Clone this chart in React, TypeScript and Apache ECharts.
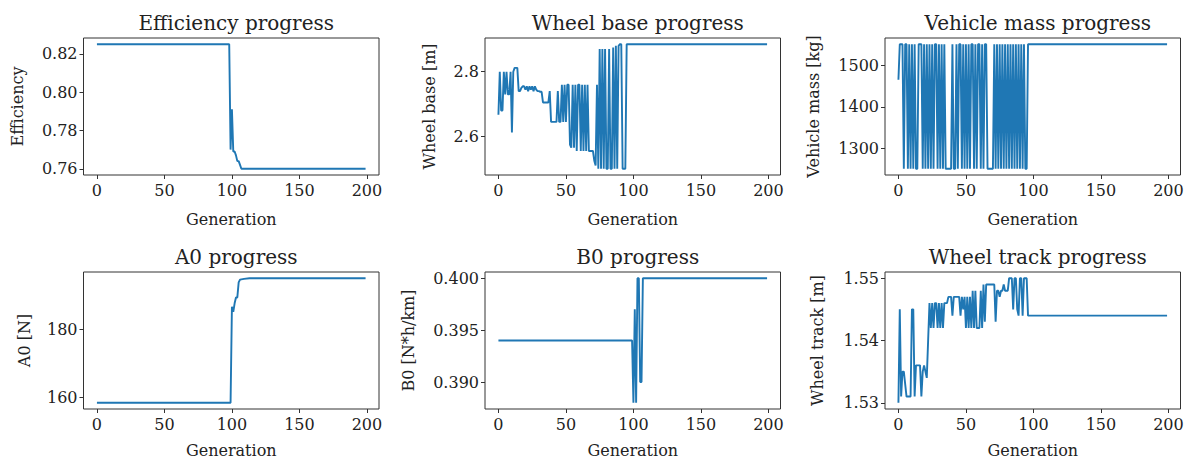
import React, { useEffect, useRef } from "react";
import * as echarts from "echarts";

// ---------- data ----------
const xTicks = [0, 50, 100, 150, 200];
const lastGeneration = 199;

// [generation, value] key points (straight segments between them)
const efficiencyPoints: [number, number][] = [
  [0, 0.825], [98, 0.825], [99, 0.77], [100, 0.791], [101, 0.769], [102, 0.769],
  [103, 0.767], [104, 0.764], [105, 0.764], [106, 0.762], [107, 0.76], [199, 0.76],
];
const a0Points: [number, number][] = [
  [0, 158.5], [99, 158.5], [100, 186.5], [101, 185], [102, 187.5], [103, 189.2],
  [104, 189.2], [105, 193.6], [106, 194.4], [109, 194.6], [113, 194.8], [199, 194.8],
];
const b0Points: [number, number][] = [
  [0, 0.394], [99, 0.394], [100, 0.388], [101, 0.397], [102, 0.388], [103, 0.4],
  [104, 0.4], [105, 0.39], [106, 0.39], [107, 0.4], [199, 0.4],
];

// values per generation from 0, last value holds until generation 199
const wheelBaseValues = [
  2.667, 2.8, 2.68, 2.68, 2.8, 2.73, 2.8, 2.73, 2.73, 2.8,
  2.612, 2.8, 2.812, 2.812, 2.812, 2.74, 2.74, 2.75, 2.755, 2.755,
  2.745, 2.755, 2.74, 2.755, 2.745, 2.755, 2.74, 2.755, 2.745, 2.74,
  2.74, 2.738, 2.738, 2.705, 2.705, 2.705, 2.705, 2.705, 2.74, 2.645,
  2.645, 2.645, 2.645, 2.645, 2.74, 2.645, 2.645, 2.76, 2.645, 2.76,
  2.645, 2.76, 2.76, 2.575, 2.565, 2.76, 2.565, 2.76, 2.555, 2.76,
  2.76, 2.555, 2.76, 2.555, 2.76, 2.555, 2.76, 2.555, 2.555, 2.555,
  2.555, 2.525, 2.51, 2.76, 2.5, 2.87, 2.5, 2.87, 2.5, 2.87,
  2.5, 2.5, 2.87, 2.5, 2.5, 2.875, 2.5, 2.88, 2.5, 2.88,
  2.885, 2.885, 2.5, 2.5, 2.5, 2.885,
];
const vehicleMassValues = [
  1466, 1552, 1552, 1552, 1250, 1552, 1552, 1250, 1552, 1250,
  1552, 1250, 1552, 1250, 1250, 1552, 1552, 1552, 1250, 1552,
  1250, 1552, 1250, 1552, 1250, 1552, 1250, 1552, 1552, 1250,
  1552, 1250, 1552, 1250, 1552, 1250, 1250, 1250, 1250, 1250,
  1552, 1250, 1250, 1552, 1250, 1552, 1552, 1250, 1552, 1250,
  1552, 1250, 1552, 1250, 1552, 1552, 1250, 1552, 1250, 1552,
  1552, 1250, 1552, 1250, 1552, 1552, 1250, 1250, 1250, 1250,
  1250, 1552, 1250, 1552, 1250, 1552, 1250, 1552, 1250, 1552,
  1250, 1552, 1250, 1552, 1250, 1552, 1250, 1552, 1250, 1552,
  1250, 1552, 1250, 1552, 1250, 1250, 1552,
];
const wheelTrackValues = [
  1.53, 1.545, 1.531, 1.535, 1.535, 1.533, 1.531, 1.531, 1.531, 1.531,
  1.545, 1.545, 1.531, 1.536, 1.536, 1.536, 1.536, 1.531, 1.535, 1.536,
  1.535, 1.534, 1.54, 1.546, 1.542, 1.546, 1.542, 1.546, 1.546, 1.542,
  1.546, 1.542, 1.546, 1.542, 1.546, 1.546, 1.546, 1.547, 1.547, 1.547,
  1.544, 1.547, 1.547, 1.547, 1.547, 1.547, 1.544, 1.547, 1.545, 1.547,
  1.542, 1.547, 1.542, 1.547, 1.542, 1.548, 1.542, 1.548, 1.542, 1.542,
  1.542, 1.548, 1.542, 1.549, 1.543, 1.549, 1.549, 1.549, 1.549, 1.549,
  1.549, 1.549, 1.543, 1.548, 1.548, 1.547, 1.548, 1.548, 1.549, 1.548,
  1.548, 1.548, 1.55, 1.55, 1.55, 1.545, 1.55, 1.55, 1.545, 1.544,
  1.55, 1.55, 1.544, 1.55, 1.55, 1.55, 1.544,
];

const titles = [
  "Efficiency progress", "Wheel base progress", "Vehicle mass progress",
  "A0 progress", "B0 progress", "Wheel track progress",
];
const yNames = ["Efficiency", "Wheel base [m]", "Vehicle mass [kg]", "A0 [N]", "B0 [N*h/km]", "Wheel track [m]"];
const yTicks = [
  [0.76, 0.78, 0.8, 0.82],
  [2.6, 2.8],
  [1300, 1400, 1500],
  [160, 180],
  [0.39, 0.395, 0.4],
  [1.53, 1.54, 1.55],
];
const yDecimals = [2, 1, 0, 0, 3, 2];
const xName = "Generation";

function fromValues(vals: number[]): [number, number][] {
  const pts: [number, number][] = vals.map((v, i) => [i, v] as [number, number]);
  pts.push([lastGeneration, vals[vals.length - 1]]);
  return pts;
}

const seriesData: [number, number][][] = [
  efficiencyPoints,
  fromValues(wheelBaseValues),
  fromValues(vehicleMassValues),
  a0Points,
  b0Points,
  fromValues(wheelTrackValues),
];

// matplotlib-like 5% margins
function padRange(pts: [number, number][], idx: 0 | 1): [number, number] {
  let lo = Infinity, hi = -Infinity;
  for (const p of pts) { lo = Math.min(lo, p[idx]); hi = Math.max(hi, p[idx]); }
  const m = (hi - lo) * 0.05;
  return [lo - m, hi + m];
}

// ---------- layout ----------
const lefts = [83.5, 485, 885];
const tops = [38, 272];
const GW = 295.5;
const GH = 137;
const yNameGaps = [58, 48, 64, 51, 69, 60];
const xNameGaps = [36, 36, 36, 33, 33, 33];
const textColor = "#222";
const FONT = "'DejaVu Serif', serif";

export default function App() {
  const ref = useRef<HTMLDivElement>(null);
  useEffect(() => {
    if (!ref.current) return;
    const chart = echarts.init(ref.current, undefined, { renderer: "svg" });
    const grids: any[] = [];
    const xAxes: any[] = [];
    const yAxes: any[] = [];
    const series: any[] = [];
    const title: any[] = [];
    for (let i = 0; i < 6; i++) {
      const col = i % 3;
      const row = Math.floor(i / 3);
      grids.push({
        left: lefts[col], top: tops[row], width: GW, height: GH,
        show: true, borderColor: "#333", borderWidth: 1, backgroundColor: "transparent",
      });
      const [xmin, xmax] = padRange(seriesData[i], 0);
      const [ymin, ymax] = padRange(seriesData[i], 1);
      xAxes.push({
        type: "value", gridIndex: i, min: xmin, max: xmax,
        name: xName, nameLocation: "middle", nameGap: xNameGaps[i],
        nameTextStyle: { fontFamily: FONT, fontSize: 16, color: textColor },
        axisLine: { show: false, onZero: false },
        axisTick: { show: true, inside: false, length: 4, customValues: xTicks, lineStyle: { color: "#333" } },
        axisLabel: { customValues: xTicks, fontFamily: FONT, fontSize: 16, color: textColor, margin: 7 },
        splitLine: { show: false },
      });
      const dec = yDecimals[i];
      yAxes.push({
        type: "value", gridIndex: i, min: ymin, max: ymax,
        name: yNames[i], nameLocation: "middle", nameGap: yNameGaps[i], nameRotate: 90,
        nameTextStyle: { fontFamily: FONT, fontSize: 16, color: textColor },
        axisLine: { show: false, onZero: false },
        axisTick: { show: true, inside: false, length: 4, customValues: yTicks[i], lineStyle: { color: "#333" } },
        axisLabel: {
          customValues: yTicks[i], fontFamily: FONT, fontSize: 16, color: textColor, margin: 6,
          formatter: (v: number) => v.toFixed(dec),
        },
        splitLine: { show: false },
      });
      series.push({
        type: "line", xAxisIndex: i, yAxisIndex: i, data: seriesData[i],
        showSymbol: false, symbol: "none",
        lineStyle: { color: "#1f77b4", width: 1.9 },
        itemStyle: { color: "#1f77b4" },
      });
      title.push({
        text: titles[i],
        left: lefts[col] + GW / 2, top: row === 0 ? 8 : 242,
        textAlign: "center",
        textStyle: { fontFamily: FONT, fontSize: 20, fontWeight: "normal", color: textColor },
      });
    }
    chart.setOption({
      animation: false,
      backgroundColor: "#fff",
      title, grid: grids, xAxis: xAxes, yAxis: yAxes, series,
    });
    return () => chart.dispose();
  }, []);
  return (
    <div
      ref={ref}
      style={{ position: "absolute", left: 0, top: 0, width: 1191, height: 459 }}
    />
  );
}
